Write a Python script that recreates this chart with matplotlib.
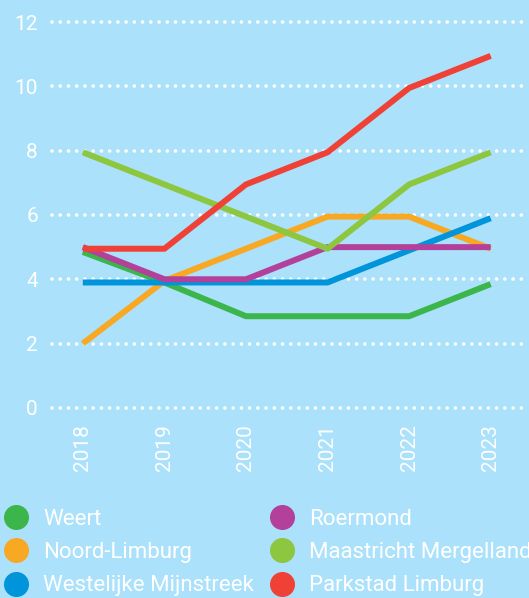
import matplotlib.pyplot as plt
from matplotlib.lines import Line2D

years = ["2018", "2019", "2020", "2021", "2022", "2023"]
regions = ["Weert", "Noord-Limburg", "Westelijke Mijnstreek",
           "Roermond", "Maastricht Mergelland", "Parkstad Limburg"]
colors = ["#3cb54a", "#f8a823", "#0095da", "#b3409a", "#8dc63f", "#ef4136"]

weert = [4.85, 3.9, 2.85, 2.85, 2.85, 3.85]
noord_limburg = [2.0, 3.95, 4.95, 5.95, 5.95, 4.95]
westelijke_mijnstreek = [3.9, 3.9, 3.9, 3.9, 4.9, 5.9]
roermond = [5.0, 4.0, 4.0, 5.0, 5.0, 5.0]
maastricht = [7.95, 6.95, 5.95, 4.95, 6.95, 7.95]
parkstad = [4.95, 4.95, 6.95, 7.95, 9.95, 10.95]
series = [weert, noord_limburg, westelijke_mijnstreek, roermond, maastricht, parkstad]

yticks = [0, 2, 4, 6, 8, 10, 12]

bg = "#abe1fa"
plt.rcParams['font.family'] = ['Roboto', 'DejaVu Sans']

fig = plt.figure(figsize=(5.29, 5.98), dpi=100, facecolor=bg)
ax = fig.add_axes([0.098, 0.318, 0.902, 0.645])
ax.set_facecolor(bg)

# dotted white gridlines
for t in yticks:
    ax.axhline(t, color="white", lw=2.6, linestyle=(0, (0.01, 2.27)),
               dash_capstyle="round", zorder=1, clip_on=False)

x = range(len(years))
for vals, c in zip(series, colors):
    ax.plot(x, vals, color=c, lw=4.3, solid_capstyle="butt", zorder=3, clip_on=False)

ax.set_xlim(-0.38, 5.47)
ax.set_ylim(0, 12)
ax.set_yticks(yticks)
ax.set_yticklabels([str(t) for t in yticks])
ax.set_xticks(list(x))
ax.set_xticklabels(years, rotation=90, va="top")
ax.tick_params(axis="y", length=0, pad=10, labelsize=15, labelcolor="white")
ax.tick_params(axis="x", length=0, pad=12, labelsize=15, labelcolor="white")
for s in ax.spines.values():
    s.set_visible(False)

handles = [Line2D([], [], marker="o", ls="", color=c, markersize=17) for c in colors]
fig.legend(handles, regions, ncol=2, loc="upper left", bbox_to_anchor=(0.001, 0.149),
           frameon=False, fontsize=16, labelcolor="white", handletextpad=0.52,
           columnspacing=0.565, labelspacing=0.55, borderaxespad=0, borderpad=0,
           handlelength=1.4)

fig.savefig("out.png", dpi=100, facecolor=bg)
